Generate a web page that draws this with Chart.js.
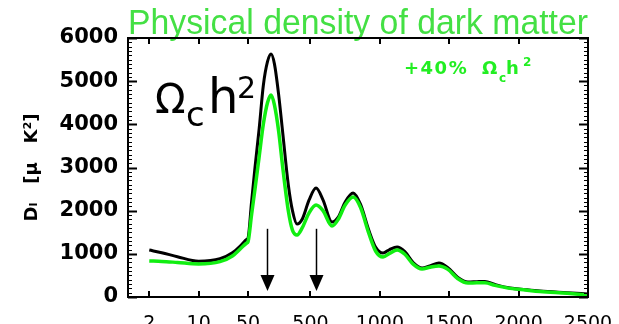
<!DOCTYPE html>
<html>
<head>
<meta charset="utf-8">
<script src="https://cdn.jsdelivr.net/npm/chart.js@4/dist/chart.umd.min.js"></script>
<style>
    html, body { margin: 0; padding: 0; background: #fff; overflow: hidden; }
</style>
</head>
<body>
<canvas id="spectrumChart" width="619" height="324"></canvas>
<script>
const multipoles = [2, 3, 5, 10, 20, 30, 40, 48, 50, 75, 100, 130, 160, 190, 216, 240, 270, 300, 340, 370, 403,
    440, 490, 540, 590, 655, 700, 750, 807, 860, 920, 970, 1023, 1070, 1124, 1180, 1240, 1304, 1360, 1426,
    1490, 1560, 1635, 1700, 1757, 1830, 1938, 2050, 2154, 2350, 2500];

// D_l in muK^2, fiducial model (black)
const dlFiducial = [1088, 1026, 934, 830, 887, 1026, 1204, 1335, 1366, 2200, 3000, 3900, 4900, 5450, 5628, 5400, 4700, 3800, 2600, 2000, 1690,
    1800, 2250, 2524, 2250, 1737, 1850, 2200, 2409, 2150, 1550, 1150, 1019, 1100, 1158, 1050, 800, 672, 720, 787,
    680, 460, 347, 355, 360, 290, 208, 170, 139, 100, 70];

// D_l with +40% Omega_c h^2 (green)
const dlPlus40 = [834, 825, 800, 764, 818, 950, 1135, 1250, 1281, 1900, 2500, 3250, 4000, 4500, 4678, 4450, 3850, 3000, 2000, 1550, 1436,
    1600, 1950, 2131, 2000, 1644, 1800, 2130, 2316, 2080, 1480, 1060, 926, 1010, 1088, 990, 760, 648, 690, 718,
    640, 430, 324, 330, 330, 270, 200, 160, 125, 85, 46];

const xTickValues = [2, 10, 50, 500, 1000, 1500, 2000, 2500];
const yTickValues = [0, 1000, 2000, 3000, 4000, 5000, 6000];
const arrowMultipoles = [185, 540];
const arrowRange = [1580, 140]; // D_l from tail to tip

const SPLIT_L = 50;      // log below, linear above
const LOG_SHARE = 0.261; // share of the axis taken by the log part

// x axis: logarithmic up to l=50, linear after that
class HybridScale extends Chart.LinearScale {
    static id = 'hybrid';
    static defaults = Chart.LinearScale.defaults;

    toDecimal(value) {
        if (value <= SPLIT_L) {
            return LOG_SHARE * Math.log10(value / this.min) / Math.log10(SPLIT_L / this.min);
        }
        return LOG_SHARE + (1 - LOG_SHARE) * (value - SPLIT_L) / (this.max - SPLIT_L);
    }

    getPixelForValue(value) {
        if (value === null || value === undefined || isNaN(value)) {
            return NaN;
        }
        return this.getPixelForDecimal(this.toDecimal(value));
    }

    getValueForPixel(pixel) {
        const d = this.getDecimalForPixel(pixel);
        if (d <= LOG_SHARE) {
            return this.min * Math.pow(SPLIT_L / this.min, d / LOG_SHARE);
        }
        return SPLIT_L + (d - LOG_SHARE) / (1 - LOG_SHARE) * (this.max - SPLIT_L);
    }
}
Chart.register(HybridScale);

// Frame, inward ticks, labels and arrows
const decorations = {
    id: 'decorations',
    afterDatasetsDraw(chart) {
        const ctx = chart.ctx;
        const area = chart.chartArea;
        const x = chart.scales.x;
        const y = chart.scales.y;

        ctx.save();
        ctx.strokeStyle = '#000';
        ctx.fillStyle = '#000';

        // arrows
        ctx.lineWidth = 1.5;
        arrowMultipoles.forEach(function(l) {
            const px = Math.round(x.getPixelForValue(l)) + 0.5;
            const top = y.getPixelForValue(arrowRange[0]);
            const tip = y.getPixelForValue(arrowRange[1]);
            ctx.beginPath();
            ctx.moveTo(px, top);
            ctx.lineTo(px, tip - 14);
            ctx.stroke();
            ctx.beginPath();
            ctx.moveTo(px - 7, tip - 16);
            ctx.lineTo(px + 7, tip - 16);
            ctx.lineTo(px, tip);
            ctx.closePath();
            ctx.fill();
        });

        // frame
        ctx.lineWidth = 2;
        ctx.strokeRect(area.left, area.top, area.right - area.left, area.bottom - area.top);

        // x ticks, top and bottom
        xTickValues.forEach(function(l) {
            const px = Math.round(x.getPixelForValue(l));
            ctx.beginPath();
            ctx.moveTo(px, area.bottom);
            ctx.lineTo(px, area.bottom - 6);
            ctx.moveTo(px, area.top);
            ctx.lineTo(px, area.top + 6);
            ctx.stroke();
        });

        // y ticks, left and right, minor every 100
        for (let v = 0; v <= 6000; v += 100) {
            const py = Math.round(y.getPixelForValue(v)) + 0.5;
            const len = (v % 1000 === 0) ? 9 : 4;
            ctx.lineWidth = (v % 1000 === 0) ? 2 : 1.2;
            ctx.beginPath();
            ctx.moveTo(area.left, py);
            ctx.lineTo(area.left + len, py);
            ctx.moveTo(area.right, py);
            ctx.lineTo(area.right - len, py);
            ctx.stroke();
        }

        // big parameter label
        ctx.textBaseline = 'alphabetic';
        ctx.textAlign = 'left';
        ctx.font = '40px "DejaVu Sans"';
        ctx.fillText('\u03A9', 155, 113);
        ctx.font = '34px "DejaVu Sans"';
        ctx.fillText('c', 186, 126);
        ctx.font = '48px "DejaVu Sans"';
        ctx.fillText('h', 208, 113);
        ctx.font = '30px "DejaVu Sans"';
        ctx.fillText('2', 237, 98);

        // legend text
        ctx.fillStyle = '#22ee22';
        ctx.font = 'bold 18px "DejaVu Sans"';
        ctx.letterSpacing = '1.5px';
        ctx.fillText('+40%', 404, 74);
        ctx.letterSpacing = '0px';
        ctx.fillText('\u03A9', 482, 74);
        ctx.font = 'bold 12px "DejaVu Sans"';
        ctx.fillText('c', 499, 82);
        ctx.font = 'bold 18px "DejaVu Sans"';
        ctx.fillText('h', 506, 74);
        ctx.font = 'bold 12px "DejaVu Sans"';
        ctx.fillText('2', 523, 66);

        ctx.restore();
    }
};

const ctx = document.getElementById('spectrumChart').getContext('2d');
new Chart(ctx, {
    type: 'line',
    data: {
        datasets: [{
            label: 'fiducial',
            data: multipoles.map(function(l, i) { return { x: l, y: dlFiducial[i] }; }),
            borderColor: '#000000',
            borderWidth: 3,
            pointRadius: 0,
            cubicInterpolationMode: 'monotone',
            order: 2
        }, {
            label: '+40% Omega_c h^2',
            data: multipoles.map(function(l, i) { return { x: l, y: dlPlus40[i] }; }),
            borderColor: '#11ee11',
            borderWidth: 3.5,
            pointRadius: 0,
            cubicInterpolationMode: 'monotone',
            order: 1
        }]
    },
    options: {
        responsive: false,
        animation: false,
        layout: { padding: { left: 0, right: 31, top: 0, bottom: 0 } },
        plugins: {
            legend: { display: false },
            tooltip: { enabled: false },
            title: {
                display: true,
                fullSize: false,
                text: 'Physical density of dark matter',
                color: '#44e044',
                font: { family: '"Liberation Sans", Arial, sans-serif', size: 35, weight: 'normal', lineHeight: 1.0 },
                padding: { top: 7, bottom: -4 }
            }
        },
        scales: {
            x: {
                type: 'hybrid',
                min: 1,
                max: 2500,
                grid: { display: false, drawTicks: false },
                border: { display: false },
                afterBuildTicks: function(axis) {
                    axis.ticks = xTickValues.map(function(v) { return { value: v }; });
                },
                afterFit: function(axis) {
                    // labels hang off the bottom edge; keep the plot width fixed
                    axis.height = 27;
                    axis.paddingLeft = 0;
                    axis.paddingRight = 0;
                },
                ticks: {
                    autoSkip: false,
                    maxRotation: 0,
                    padding: 16,
                    color: '#000',
                    font: { family: '"DejaVu Sans"', size: 19 },
                    callback: function(value) { return String(value); }
                }
            },
            y: {
                min: 0,
                max: 6000,
                grid: { display: false, drawTicks: false },
                border: { display: false },
                afterBuildTicks: function(axis) {
                    axis.ticks = yTickValues.map(function(v) { return { value: v }; });
                },
                afterFit: function(axis) { axis.width = 128; },
                ticks: {
                    padding: 10,
                    color: '#000',
                    font: { family: '"DejaVu Sans"', size: 21, weight: 'bold' },
                    callback: function(value) { return String(value); }
                },
                title: {
                    display: true,
                    text: 'D\u2097   [\u03BC   K\u00B2]',
                    color: '#000',
                    font: { family: '"DejaVu Sans"', size: 18, weight: 'bold' },
                    padding: { top: 22, bottom: 0 }
                }
            }
        }
    },
    plugins: [decorations]
});
</script>
</body>
</html>
